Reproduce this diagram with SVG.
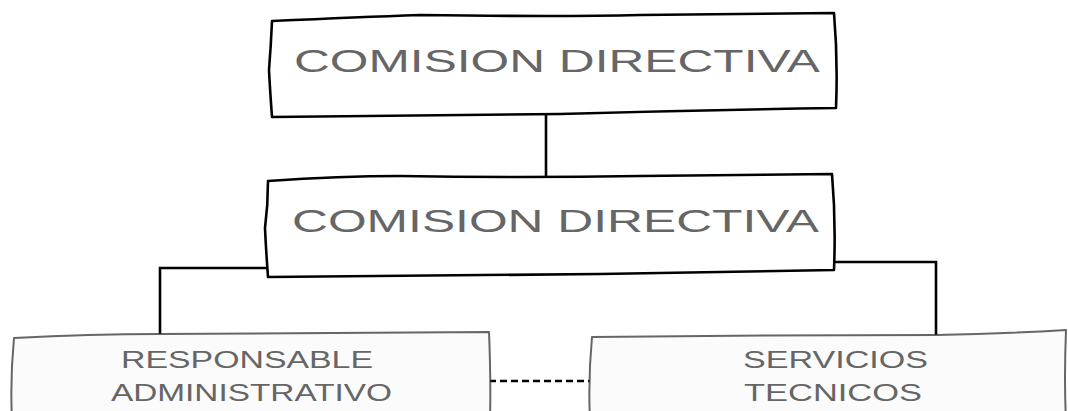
<svg xmlns="http://www.w3.org/2000/svg" width="1068" height="411" viewBox="0 0 1068 411">
<defs>
<style>
.box{fill:#ffffff;stroke:#000;stroke-width:2.6;stroke-linejoin:round;stroke-linecap:round}
.soft{fill:#fbfbfb;stroke:#333;stroke-opacity:0.75;stroke-width:2;stroke-linejoin:round;stroke-linecap:round}
.big{font-family:"Liberation Sans",Arial,sans-serif;font-size:31px;fill:#666666}
.sm{font-family:"Liberation Sans",Arial,sans-serif;font-size:24px;fill:#666666}
.conn{fill:none;stroke:#000;stroke-width:2.6}
.dash{fill:none;stroke:#000;stroke-width:2.6;stroke-dasharray:7,4}
</style>
</defs>
<rect width="1068" height="411" fill="#ffffff"/>
<g id="connectors">
<line class="conn" x1="546" y1="114" x2="546" y2="180"/>
<polyline class="conn" points="269,268 160,268 160,334"/>
<polyline class="conn" points="833,262 936,262 936,336"/>
<line class="dash" x1="489" y1="381" x2="590" y2="381"/>
</g>
<g id="node-top">
<path class="box" d="M272,21 Q360,17 420,15 Q560,17 640,15 Q760,14 834,13 Q838,60 836,108 Q700,110 560,114 Q420,116 272,117 Q270,90 269,70 Q271,45 272,21 Z"/>
<text class="big" x="294" y="72" textLength="526" lengthAdjust="spacingAndGlyphs">COMISION DIRECTIVA</text>
</g>
<g id="node-mid">
<path class="box" d="M268,181 Q340,176 400,176 Q520,178 640,176 Q760,175 832,174 Q836,220 834,270 Q720,272 600,274 Q420,276 268,277 Q266,250 265,228 Q268,205 268,181 Z"/>
<text class="big" x="292" y="232" textLength="527" lengthAdjust="spacingAndGlyphs">COMISION DIRECTIVA</text>
</g>
<g id="node-resp">
<path class="soft" d="M14,338 Q90,334 160,334 Q320,333 489,332 Q491,380 490,420 L12,420 Q10,380 14,338 Z"/>
<text class="sm" x="121" y="368" textLength="252" lengthAdjust="spacingAndGlyphs">RESPONSABLE</text>
<text class="sm" x="111" y="401" textLength="281" lengthAdjust="spacingAndGlyphs">ADMINISTRATIVO</text>
</g>
<g id="node-serv">
<path class="soft" d="M592,337 Q760,335 936,335 Q1000,334 1066,330 Q1064,380 1066,420 L590,420 Q588,380 592,337 Z"/>
<text class="sm" x="743" y="368" textLength="185" lengthAdjust="spacingAndGlyphs">SERVICIOS</text>
<text class="sm" x="744" y="401" textLength="178" lengthAdjust="spacingAndGlyphs">TECNICOS</text>
</g>
</svg>
